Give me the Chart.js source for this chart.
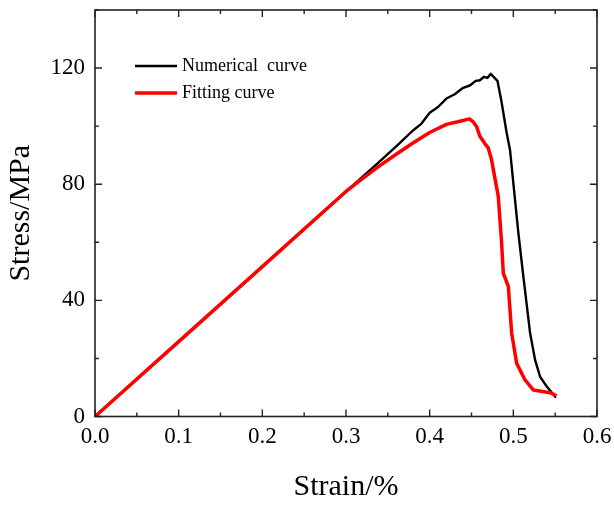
<!DOCTYPE html>
<html>
<head>
<meta charset="utf-8">
<script src="https://cdn.jsdelivr.net/npm/chart.js@4.4.0/dist/chart.umd.min.js"></script>
<style>
  html, body { margin: 0; padding: 0; background: #fff; }
  #wrap { width: 614px; height: 505px; }
</style>
</head>
<body>
<div id="wrap"><canvas id="chart" width="614" height="505"></canvas></div>
<script>
// values
let
  numStrain  = [0, 0.1, 0.2, 0.3, 0.32, 0.34, 0.36, 0.38, 0.39, 0.40, 0.41, 0.42, 0.43, 0.44, 0.448, 0.455, 0.46, 0.465, 0.469, 0.473, 0.477, 0.481, 0.4855, 0.492, 0.496, 0.506, 0.512, 0.520, 0.526, 0.532, 0.540, 0.550],
  numStress  = [0, 25.8, 51.6, 77.5, 82.6, 87.8, 93.0, 98.5, 100.8, 104.6, 106.6, 109.5, 111.0, 113.2, 114.0, 115.6, 115.8, 117.0, 116.6, 118.0, 116.8, 115.6, 109.0, 97.7, 91.9, 63.2, 48.2, 28.8, 19.5, 13.7, 10.3, 6.8],
  fitStrain  = [0, 0.1, 0.2, 0.3, 0.32, 0.34, 0.36, 0.38, 0.40, 0.42, 0.435, 0.4475, 0.452, 0.456, 0.460, 0.466, 0.470, 0.474, 0.478, 0.482, 0.486, 0.488, 0.494, 0.498, 0.504, 0.514, 0.524, 0.544, 0.550],
  fitStress  = [0, 25.8, 51.6, 77.5, 82.0, 86.3, 90.3, 94.2, 97.8, 100.6, 101.6, 102.5, 101.5, 99.9, 96.5, 94.0, 92.5, 88.4, 82.0, 75.8, 59.7, 49.4, 44.8, 28.7, 18.3, 12.6, 9.1, 8.2, 7.4],
  xTicks     = [0, 0.1, 0.2, 0.3, 0.4, 0.5, 0.6],
  yTicks     = [0, 40, 80, 120],
  seriesNames = ['Numerical  curve', 'Fitting curve'],
  seriesColors = ['#000000', '#ff0000'];

let serif = "'Liberation Serif', 'Times New Roman', serif";

function pairs(xs, ys) {
  return xs.map(function(x, i) { return { x: x, y: ys[i] }; });
}

// frame, inward ticks on all four sides, and the legend
let framePlugin = {
  id: 'frame',
  afterDraw: function(chart) {
    let
      ctx = chart.ctx,
      a   = chart.chartArea,
      xs  = chart.scales.x,
      ys  = chart.scales.y,
      major = 7,
      minor = 4;

    ctx.save();
    ctx.strokeStyle = '#222';
    ctx.lineWidth = 1.6;
    ctx.strokeRect(a.left, a.top, a.right - a.left, a.bottom - a.top);

    ctx.lineWidth = 1.4;
    ctx.beginPath();
    for (let v = 0; v <= 0.6001; v += 0.05) {
      let px = xs.getPixelForValue(v),
          len = (Math.round(v * 100) % 10 === 0) ? major : minor;
      ctx.moveTo(px, a.bottom); ctx.lineTo(px, a.bottom - len);
      ctx.moveTo(px, a.top);    ctx.lineTo(px, a.top + len);
    }
    for (let v = 0; v <= 140; v += 20) {
      let py = ys.getPixelForValue(v),
          len = (v % 40 === 0) ? major : minor;
      ctx.moveTo(a.left, py);  ctx.lineTo(a.left + len, py);
      ctx.moveTo(a.right, py); ctx.lineTo(a.right - len, py);
    }
    ctx.stroke();

    // legend
    ctx.font = '18px ' + serif;
    ctx.textBaseline = 'middle';
    ctx.fillStyle = '#000';
    seriesNames.forEach(function(name, i) {
      let y = 66 + i * 27;
      ctx.strokeStyle = seriesColors[i];
      ctx.lineWidth = i === 0 ? 2.5 : 3.5;
      ctx.beginPath();
      ctx.moveTo(135, y);
      ctx.lineTo(177, y);
      ctx.stroke();
      ctx.fillText(name, 182, y);
    });
    ctx.restore();
  }
};

new Chart(document.getElementById('chart').getContext('2d'), {
  type: 'line',
  plugins: [framePlugin],
  data: {
    datasets: [
      { label: seriesNames[0], data: pairs(numStrain, numStress), borderColor: seriesColors[0], borderWidth: 2.4, order: 1 },
      { label: seriesNames[1], data: pairs(fitStrain, fitStress), borderColor: seriesColors[1], borderWidth: 3.5, order: 0 }
    ]
  },
  options: {
    responsive: false,
    animation: false,
    parsing: false,
    layout: { padding: { left: 0, top: 10, right: 17, bottom: 0 } },
    elements: {
      point: { radius: 0 },
      line: { tension: 0, fill: false, borderJoinStyle: 'round', borderCapStyle: 'round' }
    },
    plugins: {
      legend: { display: false },
      tooltip: { enabled: false }
    },
    scales: {
      x: {
        type: 'linear',
        min: 0,
        max: 0.6,
        grid: { display: false, drawTicks: false },
        border: { display: false },
        afterBuildTicks: function(s) { s.ticks = xTicks.map(function(v) { return { value: v }; }); },
        afterFit: function(s) { s.height = 88.5; s.paddingLeft = 0; s.paddingRight = 0; },
        ticks: {
          padding: 7,
          color: '#000',
          font: { family: serif, size: 23 },
          maxRotation: 0,
          callback: function(v) { return Number(v).toFixed(1); }
        },
        title: {
          display: true,
          text: 'Strain/%',
          color: '#000',
          font: { family: serif, size: 30 },
          padding: { top: 0, bottom: 0 }
        }
      },
      y: {
        type: 'linear',
        min: 0,
        max: 140,
        grid: { display: false, drawTicks: false },
        border: { display: false },
        afterBuildTicks: function(s) { s.ticks = yTicks.map(function(v) { return { value: v }; }); },
        afterFit: function(s) { s.width = 95; s.paddingTop = 0; s.paddingBottom = 0; },
        ticks: {
          padding: 10,
          color: '#000',
          font: { family: serif, size: 23 },
          callback: function(v) { return String(v); }
        },
        title: {
          display: true,
          text: 'Stress/MPa',
          color: '#000',
          font: { family: serif, size: 30 },
          padding: { top: 3, bottom: 0 }
        }
      }
    }
  }
});
</script>
</body>
</html>
